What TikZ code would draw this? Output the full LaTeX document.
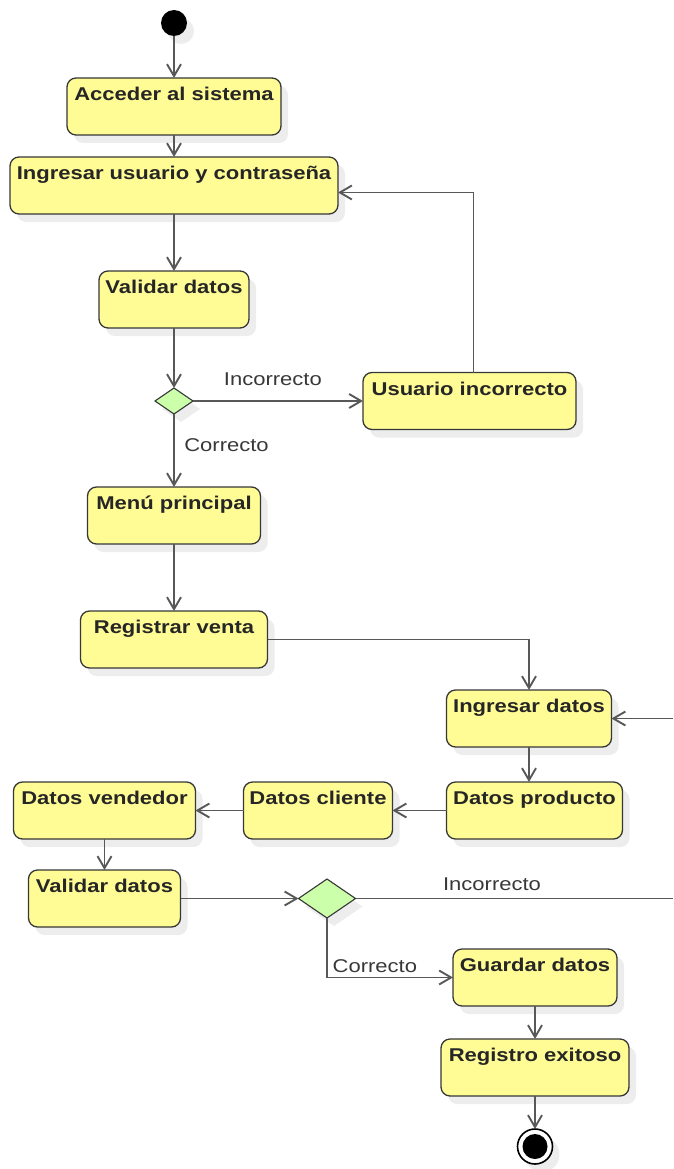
\documentclass[tikz,border=0pt]{standalone}
\usepackage{fontspec}
\setmainfont{Liberation Sans}[FakeStretch=1.19]
\usetikzlibrary{arrows.meta, positioning, shapes.geometric, shadows}

\definecolor{actyellow}{RGB}{255,252,150}
\definecolor{decgreen}{RGB}{204,255,170}
\definecolor{linegray}{RGB}{88,88,88}
\definecolor{bordergray}{RGB}{55,55,55}

\begin{document}
\begin{tikzpicture}[
    x=1pt, y=-1pt,
    boxshadow/.style={drop shadow={shadow xshift=7pt, shadow yshift=-8pt, fill=black!7, opacity=1}},
    actbox/.style={rectangle, draw=bordergray, line width=1.3pt, fill=actyellow, rounded corners=9pt, outer sep=0pt, inner xsep=5pt, inner ysep=0pt, text height=22.8pt, text depth=34.2pt, font=\fontsize{18.5}{22}\selectfont\bfseries, text=black!85, boxshadow},
    decbox/.style={diamond, draw=bordergray, line width=1.1pt, fill=decgreen, outer sep=0pt, inner sep=0pt, boxshadow},
    startnode/.style={circle, fill=black, minimum size=26pt, outer sep=0pt, inner sep=0pt, boxshadow},
    endnode/.style={circle, draw=black, line width=1.6pt, fill=white, minimum size=35pt, outer sep=0pt, inner sep=0pt, boxshadow},
    flowline/.style={draw=linegray, line width=1.9pt},
    flowarrow/.style={flowline, -{Straight Barb[length=12pt, width=14pt]}},
    guardlabel/.style={font=\fontsize{18.5}{22}\selectfont, text=black!78}
]
\useasboundingbox (0,0) rectangle (673,1169);

% Initial node
\node[startnode] (start) at (174,23) {};

% Login flow
\node[actbox, minimum width=214pt, below=42pt of start] (acceder) {Acceder al sistema};
\node[actbox, minimum width=328pt, below=22pt of acceder] (ingresar) {Ingresar usuario y contraseña};
\node[actbox, minimum width=150pt, below=57pt of ingresar] (validar) {Validar datos};
\node[decbox, minimum width=38pt, minimum height=26pt, below=60pt of validar] (check) {};
\node[actbox, minimum width=213pt, right=170pt of check] (usuario) {Usuario incorrecto};
\node[actbox, minimum width=173pt, below=73pt of check] (menu) {Menú principal};

% Sale registration
\node[actbox, minimum width=187pt, below=67pt of menu] (registrar) {Registrar venta};
\node[actbox, minimum width=165pt, below right=22pt and 179pt of registrar.south east] (ingdatos) {Ingresar datos};
\node[actbox, minimum width=176pt, below=35pt of ingdatos.south west, anchor=north west] (producto) {Datos producto};
\node[actbox, minimum width=149pt, left=54pt of producto] (cliente) {Datos cliente};
\node[actbox, minimum width=182pt, left=48pt of cliente] (vendedor) {Datos vendedor};
\node[actbox, minimum width=152pt, below=31pt of vendedor] (validarventa) {Validar datos};
\node[decbox, minimum width=57pt, minimum height=39pt, right=118pt of validarventa] (checkventa) {};
\node[actbox, minimum width=164pt, below right=31pt and 126pt of checkventa.south] (guardar) {Guardar datos};
\node[actbox, minimum width=188pt, below=33pt of guardar] (registro) {Registro exitoso};

% Final node
\node[endnode, below=33pt of registro] (final) {};
\fill (final) circle (12.5pt);

% Right margin
\coordinate (rim) at (673,0);

% Login arrows
\draw[flowarrow] (start) -- (acceder);
\draw[flowarrow] (acceder) -- (ingresar);
\draw[flowarrow] (ingresar) -- (validar);
\draw[flowarrow] (validar) -- (check);
\draw[flowarrow] (check) -- node[guardlabel, above=11pt, pos=0.47] {Incorrecto} (usuario);
\draw[flowarrow] ([xshift=4pt]usuario.north) |- ([yshift=-7pt]ingresar.east);
\draw[flowarrow] (check) -- node[guardlabel, right=6pt, pos=0.42] {Correcto} (menu);
\draw[flowarrow] (menu) -- (registrar);

% Sale arrows
\draw[flowarrow] (registrar.east) -| (ingdatos.north);
\draw[flowarrow] (rim |- ingdatos.east) -- (ingdatos.east);
\draw[flowarrow] (ingdatos.south) -- (ingdatos.south |- producto.north);
\draw[flowarrow] (producto) -- (cliente);
\draw[flowarrow] (cliente) -- (vendedor);
\draw[flowarrow] (vendedor) -- (validarventa);
\draw[flowarrow] (validarventa) -- (checkventa);
\draw[flowline] (checkventa.east) -- node[guardlabel, above=4pt, pos=0.43] {Incorrecto} (rim |- checkventa.east);
\draw[flowarrow] (checkventa.south) |- node[guardlabel, above=1pt, pos=0.69] {Correcto} (guardar.west);
\draw[flowarrow] (guardar) -- (registro);
\draw[flowarrow] (registro) -- (final);

\end{tikzpicture}
\end{document}
